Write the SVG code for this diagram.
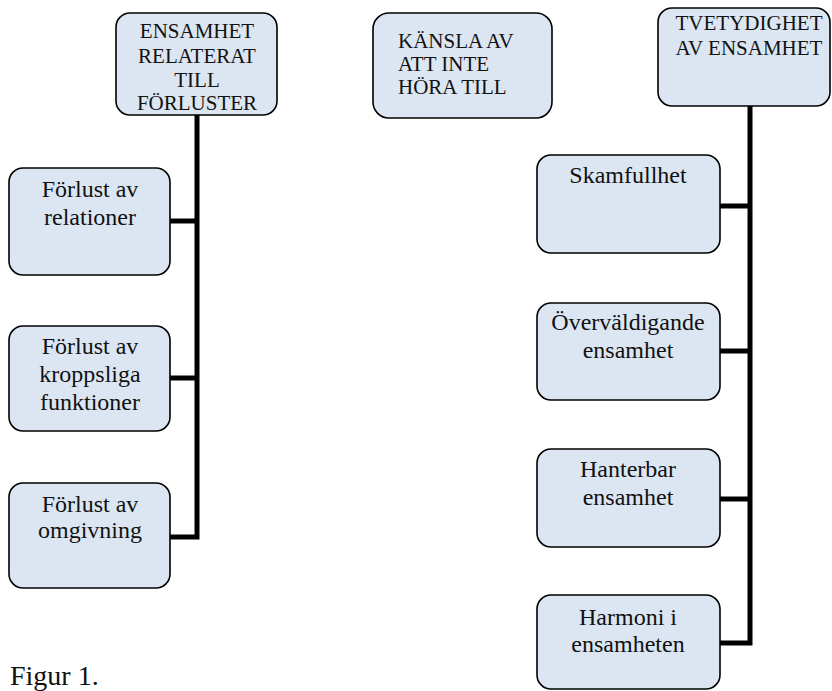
<svg xmlns="http://www.w3.org/2000/svg" width="832" height="691" viewBox="0 0 832 691" font-family="'Liberation Serif','Times New Roman',serif">
<style>
.box{fill:#dce6f2;stroke:#000;stroke-width:1.6}
.t{font-family:"Liberation Serif","Times New Roman",serif;fill:#111;text-anchor:middle}
.l{text-anchor:start}
.h{font-size:21px}
.c{font-size:24px}
.conn{fill:none;stroke:#000;stroke-width:5;stroke-linecap:butt;stroke-linejoin:miter}
</style>
<rect width="832" height="691" fill="#fff"/>
<g id="connectors">
<path class="conn" d="M197 115 V537 H170"/>
<path class="conn" d="M170 221 H197"/>
<path class="conn" d="M170 378 H197"/>
<path class="conn" d="M750 106 V643 H720"/>
<path class="conn" d="M720 206 H750"/>
<path class="conn" d="M720 351 H750"/>
<path class="conn" d="M720 499 H750"/>
</g>
<g id="n-ensamhet">
<rect class="box" x="116" y="13" width="161" height="102" rx="14"/>
<text class="t h" x="197" y="38">ENSAMHET</text>
<text class="t h" x="197" y="63">RELATERAT</text>
<text class="t h" x="197" y="87">TILL</text>
<text class="t h" x="197" y="110">FÖRLUSTER</text>
</g>
<g id="n-kansla">
<rect class="box" x="373" y="13" width="179" height="105" rx="16"/>
<text class="t h l" x="398" y="48">KÄNSLA AV</text>
<text class="t h l" x="398" y="71">ATT INTE</text>
<text class="t h l" x="398" y="94">HÖRA TILL</text>
</g>
<g id="n-tvetydighet">
<rect class="box" x="658" y="8" width="172" height="98" rx="14"/>
<text class="t h" x="749" y="30">TVETYDIGHET</text>
<text class="t h" x="749" y="55">AV ENSAMHET</text>
</g>
<g id="n-relationer">
<rect class="box" x="9" y="168" width="161" height="107" rx="14"/>
<text class="t c" x="90" y="197">Förlust av</text>
<text class="t c" x="90" y="225">relationer</text>
</g>
<g id="n-kroppsliga">
<rect class="box" x="9" y="326" width="161" height="105" rx="14"/>
<text class="t c" x="90" y="354">Förlust av</text>
<text class="t c" x="90" y="382">kroppsliga</text>
<text class="t c" x="90" y="410">funktioner</text>
</g>
<g id="n-omgivning">
<rect class="box" x="9" y="483" width="161" height="105" rx="14"/>
<text class="t c" x="90" y="512">Förlust av</text>
<text class="t c" x="90" y="538">omgivning</text>
</g>
<g id="n-skamfullhet">
<rect class="box" x="537" y="155" width="183" height="98" rx="14"/>
<text class="t c" x="628" y="183">Skamfullhet</text>
</g>
<g id="n-overvaldigande">
<rect class="box" x="537" y="303" width="183" height="97" rx="14"/>
<text class="t c" x="628" y="330">Överväldigande</text>
<text class="t c" x="628" y="358">ensamhet</text>
</g>
<g id="n-hanterbar">
<rect class="box" x="537" y="449" width="183" height="98" rx="14"/>
<text class="t c" x="628" y="477">Hanterbar</text>
<text class="t c" x="628" y="505">ensamhet</text>
</g>
<g id="n-harmoni">
<rect class="box" x="537" y="595" width="183" height="94" rx="14"/>
<text class="t c" x="628" y="625">Harmoni i</text>
<text class="t c" x="628" y="652">ensamheten</text>
</g>
<text x="10" y="685" style="font-family:'Liberation Serif','Times New Roman',serif;font-size:28px;fill:#111">Figur 1.</text>
</svg>
